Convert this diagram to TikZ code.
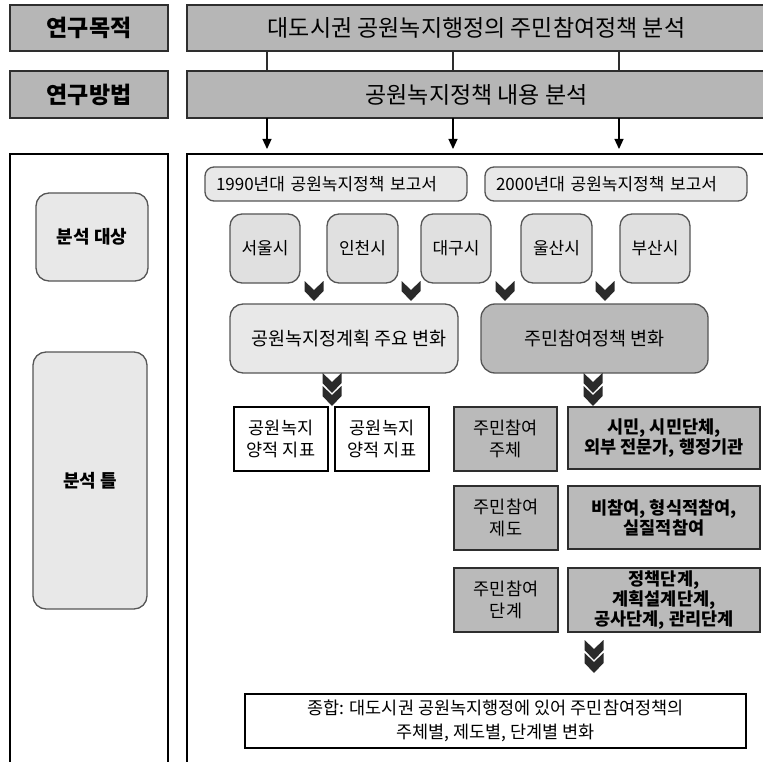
\documentclass[tikz,border=0pt]{standalone}
\usepackage{fontspec}
\setmainfont{Noto Sans CJK KR}
\usetikzlibrary{arrows.meta}
\definecolor{topgray}{HTML}{B6B6B6}
\definecolor{lightfill}{HTML}{E8E8E8}
\definecolor{cityfill}{HTML}{E0E0E0}
\definecolor{midfill}{HTML}{BABABA}
\definecolor{edge}{HTML}{2E2E2E}
\definecolor{roundedge}{HTML}{555555}
\definecolor{chevfill}{HTML}{2A2A2A}
\begin{document}
\begin{tikzpicture}[x=1pt,y=-1pt,
  every node/.style={inner sep=0pt, outer sep=0pt},
  topbox/.style={draw=edge, line width=2.2pt, fill=topgray},
  frame/.style={draw=black, line width=1.3pt, fill=white},
  lightround/.style={draw=roundedge, line width=1.3pt, fill=lightfill, rounded corners=13pt},
  cityround/.style={draw=roundedge, line width=1.3pt, fill=cityfill, rounded corners=12pt},
  midround/.style={draw=roundedge, line width=1.3pt, fill=midfill, rounded corners=14pt},
  whitebox/.style={draw=black, line width=1.8pt, fill=white, align=center},
  graybox/.style={draw=edge, line width=1.8pt, fill=midfill, align=center},
  conn/.style={draw=edge, line width=1.2pt},
  arr/.style={draw=black, line width=1.2pt, -{Triangle[length=10pt,width=9pt]}, shorten >=5pt},
  fbig/.style={font=\fontsize{23}{27}\selectfont},
  fbigb/.style={font=\fontsize{23}{27}\selectfont\bfseries},
  frep/.style={font=\fontsize{17}{21}\selectfont},
  fcity/.style={font=\fontsize{17}{21}\selectfont},
  fchg/.style={font=\fontsize{18.5}{22}\selectfont},
  fcell/.style={font=\fontsize{17.5}{21.5}\selectfont},
  fmidb/.style={font=\fontsize{18}{22}\selectfont\bfseries},
  ftab/.style={font=\fontsize{17.5}{20}\selectfont\bfseries},
  chev/.pic={\fill[chevfill] (-9.5,0) -- (0,9) -- (9.5,0) -- (9.5,10) -- (0,20) -- (-9.5,10) -- cycle;},
  dchev/.pic={\pic at (0,0) {chev}; \pic at (0,13) {chev};}
]
\clip (0,0) rectangle (763,762);
\fill[white] (0,0) rectangle (763,762);

% top rows
\node[topbox, fbigb, minimum width=158, minimum height=46] (goalL) at (89,28) {연구목적};
\node[topbox, fbig, minimum width=579, minimum height=46] (goal) at (476.5,28) {대도시권 공원녹지행정의 주민참여정책 분석};
\node[topbox, fbigb, minimum width=158, minimum height=47] (methL) at (89,94.5) {연구방법};
\node[topbox, fbig, minimum width=579, minimum height=47] (meth) at (476.5,94.5) {공원녹지정책 내용 분석};

\coordinate (c1) at (267,0);
\coordinate (c2) at (453,0);
\coordinate (c3) at (619,0);

% frames
\node[frame, minimum width=158, minimum height=612] (frameL) at (89,460) {};
\node[frame, minimum width=579, minimum height=612] (frameR) at (476.5,460) {};

\foreach \c in {c1,c2,c3} {
  \draw[conn] (goal.south -| \c) -- (meth.north -| \c);
  \draw[arr] (meth.south -| \c) -- (frameR.north -| \c);
}

% left labels
\node[lightround, fmidb, minimum width=112, minimum height=88] (objL) at (92,237) {분석 대상};
\node[lightround, fmidb, minimum width=114, minimum height=257] (frmL) at (90,480.5) {분석 틀};

% reports
\node[lightround, rounded corners=9pt, frep, text width=240, inner xsep=11pt, minimum height=34, align=left] (r1990) at (336,184) {1990년대 공원녹지정책 보고서};
\node[lightround, rounded corners=9pt, frep, text width=240, inner xsep=11pt, minimum height=34, align=left] (r2000) at (616,184) {2000년대 공원녹지정책 보고서};

% cities
\node[cityround, fcity, minimum width=70, minimum height=69] (seoul) at (265,248.5) {서울시};
\node[cityround, fcity, minimum width=71, minimum height=69] (incheon) at (362.5,248.5) {인천시};
\node[cityround, fcity, minimum width=70, minimum height=69] (daegu) at (456,248.5) {대구시};
\node[cityround, fcity, minimum width=71, minimum height=69] (ulsan) at (556.5,248.5) {울산시};
\node[cityround, fcity, minimum width=70, minimum height=69] (busan) at (655,248.5) {부산시};

% chevrons under cities
\pic at (314,281) {chev};
\pic at (411,281) {chev};
\pic at (505,281) {chev};
\pic at (605,281) {chev};

% change boxes
\node[lightround, fchg, minimum width=228, minimum height=69] (plan) at (344,338.5) {\hspace{10pt}공원녹지정계획 주요 변화};
\node[midround, fchg, minimum width=227, minimum height=69] (part) at (594.5,338.5) {주민참여정책 변화};

\pic at (332,373) {dchev};
\pic at (593,373) {dchev};

% indicator boxes
\node[whitebox, fcell, minimum width=94, minimum height=64] (w1) at (281,439) {공원녹지\\양적 지표};
\node[whitebox, fcell, minimum width=94, minimum height=64] (w2) at (382,439) {공원녹지\\양적 지표};

% participation table
\node[graybox, fcell, minimum width=103, minimum height=64] (s1) at (505.5,439) {주민참여\\주체};
\node[graybox, ftab, minimum width=192, minimum height=62] (s1v) at (664,438) {시민, 시민단체,\\외부 전문가, 행정기관};
\node[graybox, fcell, minimum width=104, minimum height=64] (s2) at (506,518) {주민참여\\제도};
\node[graybox, ftab, minimum width=192, minimum height=63] (s2v) at (664,517.5) {비참여, 형식적참여,\\실질적참여};
\node[graybox, fcell, minimum width=104, minimum height=64] (s3) at (506,600) {주민참여\\단계};
\node[graybox, ftab, minimum width=192, minimum height=64] (s3v) at (664,600) {정책단계,\\계획설계단계,\\공사단계, 관리단계};

\pic at (594,640) {dchev};

% summary
\node[whitebox, font=\fontsize{17.5}{24}\selectfont, minimum width=501, minimum height=54] (sum) at (495.5,721) {종합: 대도시권 공원녹지행정에 있어 주민참여정책의\\주체별, 제도별, 단계별 변화};
\end{tikzpicture}
\end{document}
